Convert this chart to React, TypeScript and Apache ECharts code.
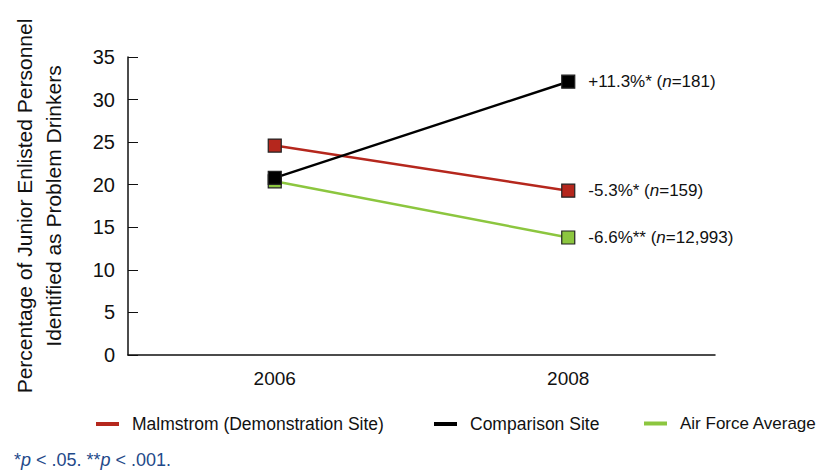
import React, { useEffect, useRef } from "react";
import * as echarts from "echarts";

const years = ["2006", "2008"];
const malmstrom = [24.6, 19.3];
const comparison = [20.8, 32.1];
const airForce = [20.4, 13.8];
const yTicks = { min: 0, max: 35, interval: 5 };
const endLabels = {
  malmstrom: ["-5.3%* (", "159)"],
  comparison: ["+11.3%* (", "181)"],
  airForce: ["-6.6%** (", "12,993)"],
};

const COND = "'Liberation Sans', Arial, sans-serif";
const SANS = "'Liberation Sans', Arial, sans-serif";

function endLabel(parts: string[]) {
  return {
    show: true,
    position: "right",
    distance: 13,
    formatter: (p: any) =>
      p.dataIndex === 1 ? `{a|${parts[0]}}{i|n}{a|=${parts[1]}}` : "",
    rich: {
      a: { fontFamily: SANS, fontSize: 17, color: "#111" },
      i: { fontFamily: SANS, fontSize: 17, color: "#111", fontStyle: "italic" },
    },
  };
}

function line(name: string, data: number[], color: string, parts: string[], z: number) {
  return {
    name,
    type: "line",
    data,
    z,
    symbol: "rect",
    symbolSize: 13,
    lineStyle: { color, width: 2.5 },
    itemStyle: { color, borderColor: "#222", borderWidth: 1.2 },
    label: endLabel(parts),
  };
}

function legend(name: string, left: number, size: number) {
  return {
    data: [name],
    left,
    top: 415,
    padding: 0,
    icon: "rect",
    itemWidth: 23,
    itemHeight: 4,
    itemGap: 0,
    itemStyle: { borderWidth: 0 },
    textStyle: { fontFamily: COND, fontSize: size, color: "#111", padding: [0, 0, 0, 8] },
  };
}

export default function App() {
  const ref = useRef<HTMLDivElement>(null);
  useEffect(() => {
    document.body.style.margin = "0";
    const chart = echarts.init(ref.current!, null, { renderer: "svg" });
    chart.setOption({
      animation: false,
      backgroundColor: "#fff",
      grid: { left: 128, right: 112, top: 57, bottom: 116 },
      legend: [
        legend("Malmstrom (Demonstration Site)", 96, 17.5),
        legend("Comparison Site", 434, 17.5),
        legend("Air Force Average", 644, 17),
      ],
      xAxis: {
        type: "category",
        data: years,
        boundaryGap: true,
        axisLine: { lineStyle: { color: "#111", width: 1.5 } },
        axisTick: { inside: true, length: 7, lineStyle: { color: "#111" } },
        axisLabel: { fontFamily: COND, fontSize: 19, color: "#111", margin: 14 },
      },
      yAxis: {
        type: "value",
        min: yTicks.min,
        max: yTicks.max,
        interval: yTicks.interval,
        name: "Percentage of Junior Enlisted Personnel\nIdentified as Problem Drinkers",
        nameLocation: "middle",
        nameGap: 60,
        nameTextStyle: { fontFamily: COND, fontSize: 21, color: "#111", lineHeight: 29 },
        axisLine: { show: true, lineStyle: { color: "#111", width: 1.5 } },
        axisTick: { show: true, inside: true, length: 10, lineStyle: { color: "#111" } },
        splitLine: { show: false },
        axisLabel: { fontFamily: COND, fontSize: 20, color: "#111", margin: 13 },
      },
      graphic: [
        {
          type: "text",
          left: 14,
          top: 451,
          style: {
            text: "{a|*}{i|p}{a| < .05. **}{i|p}{a| < .001.}",
            rich: {
              a: { fontFamily: COND, fontSize: 18, fill: "#1f4a8a" },
              i: { fontFamily: COND, fontSize: 18, fill: "#1f4a8a", fontStyle: "italic" },
            },
          },
        },
      ],
      series: [
        line("Air Force Average", airForce, "#8cc63f", endLabels.airForce, 2),
        line("Malmstrom (Demonstration Site)", malmstrom, "#b5271d", endLabels.malmstrom, 3),
        line("Comparison Site", comparison, "#000000", endLabels.comparison, 4),
      ],
    });
    return () => chart.dispose();
  }, []);
  return <div ref={ref} style={{ width: 827, height: 471 }} />;
}
